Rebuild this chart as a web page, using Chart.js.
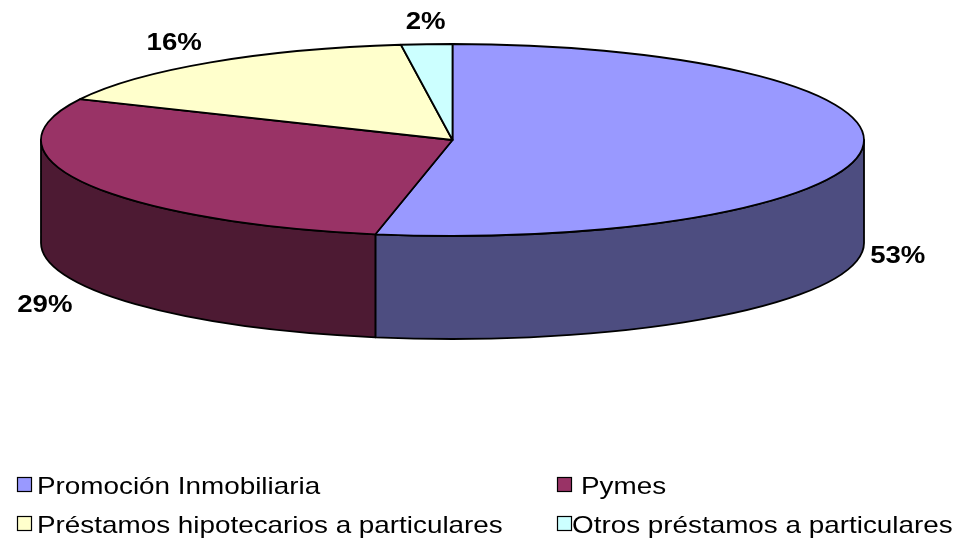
<!DOCTYPE html>
<html><head><meta charset="utf-8">
<script src="https://cdn.jsdelivr.net/npm/chart.js@4/dist/chart.umd.min.js"></script>
<style>html,body{margin:0;padding:0;background:#fff;overflow:hidden}#wrap{width:956px;height:546px;position:relative}</style>
</head><body><div id="wrap"><canvas id="c" width="956" height="546"></canvas></div>
<script>
const categories = ['Promoción Inmobiliaria', 'Pymes', 'Préstamos hipotecarios a particulares', 'Otros préstamos a particulares'];
const values = [53, 29, 16, 2];
const valueLabels = ['53%', '29%', '16%', '2%'];
const topColors = ['#9999FF', '#993366', '#FFFFCC', '#CCFFFF'];
const sideColors = ['#4D4D80', '#4D1A33', '#80806A', '#6A8080'];

const GEOM = { cx: 452.5, cy: 140, rx: 411.5, ry: 96, depth: 103 };
const FONT = '"Liberation Sans", Arial, sans-serif';
const LEGEND = {
  cols: [17, 557], rows: [477, 516], box: 14,
  textGap: [6, 10, 6, 1], fontSize: 24, sx: 1.16
};
const LABEL = { fontSize: 24, sx: 1.15 };

function scaledText(ctx, txt, x, y, align, sx) {
  ctx.save();
  ctx.translate(x, y);
  ctx.scale(sx, 1);
  ctx.textAlign = align;
  ctx.fillText(txt, 0, 0);
  ctx.restore();
}

const pie3d = {
  id: 'pie3d',
  beforeDatasetsDraw(chart) {
    const ctx = chart.ctx;
    const meta = chart.getDatasetMeta(0);
    const { cx, cy, rx, ry, depth } = GEOM;
    ctx.save();
    ctx.lineWidth = 1.8;
    ctx.strokeStyle = '#000';
    ctx.lineJoin = 'round';
    // front walls
    meta.data.forEach((arc, i) => {
      const s = arc.startAngle, e = arc.endAngle;
      [-2 * Math.PI, 0, 2 * Math.PI].forEach(off => {
        const a0 = Math.max(s, off), a1 = Math.min(e, off + Math.PI);
        if (a1 > a0) {
          ctx.beginPath();
          ctx.ellipse(cx, cy, rx, ry, 0, a0, a1, false);
          ctx.lineTo(cx + rx * Math.cos(a1), cy + depth + ry * Math.sin(a1));
          ctx.ellipse(cx, cy + depth, rx, ry, 0, a1, a0, true);
          ctx.closePath();
          ctx.fillStyle = sideColors[i];
          ctx.fill();
          ctx.stroke();
        }
      });
    });
    // top faces
    meta.data.forEach((arc, i) => {
      ctx.beginPath();
      ctx.moveTo(cx, cy);
      ctx.ellipse(cx, cy, rx, ry, 0, arc.startAngle, arc.endAngle, false);
      ctx.closePath();
      ctx.fillStyle = topColors[i];
      ctx.fill();
      ctx.stroke();
    });
    // value labels
    ctx.fillStyle = '#000';
    ctx.font = 'bold ' + LABEL.fontSize + 'px ' + FONT;
    meta.data.forEach((arc, i) => {
      const mid = (arc.startAngle + arc.endAngle) / 2;
      const c = Math.cos(mid), sn = Math.sin(mid);
      const bx = cx + rx * c;
      const by = (sn > 0 ? cy + depth : cy) + ry * sn;
      const align = c < -0.3 ? 'right' : (c > 0.3 ? 'left' : 'center');
      const gap = align === 'left' ? 8 : 15;
      const x = bx + gap * c, y = by + gap * sn;
      let ty;
      if (sn < -0.3) { ctx.textBaseline = 'alphabetic'; ty = y; }
      else if (sn > 0.3) { ctx.textBaseline = 'top'; ty = y; }
      else { ctx.textBaseline = 'middle'; ty = y + 4; }
      scaledText(ctx, valueLabels[i], x, ty, align, LABEL.sx);
    });
    ctx.restore();
    return false;
  },
  afterDraw(chart) {
    const ctx = chart.ctx;
    ctx.save();
    ctx.font = LEGEND.fontSize + 'px ' + FONT;
    ctx.textBaseline = 'alphabetic';
    categories.forEach((lab, i) => {
      const col = i % 2, row = Math.floor(i / 2);
      const x = LEGEND.cols[col], y = LEGEND.rows[row];
      ctx.fillStyle = topColors[i];
      ctx.fillRect(x + 0.5, y + 0.5, LEGEND.box, LEGEND.box);
      ctx.strokeStyle = '#000';
      ctx.lineWidth = 1.2;
      ctx.strokeRect(x + 0.5, y + 0.5, LEGEND.box, LEGEND.box);
      ctx.fillStyle = '#000';
      scaledText(ctx, lab, x + LEGEND.box + LEGEND.textGap[i], y + LEGEND.box + 3, 'left', LEGEND.sx);
    });
    ctx.restore();
  }
};

new Chart(document.getElementById('c'), {
  type: 'pie',
  data: {
    labels: categories,
    datasets: [{ data: values, backgroundColor: topColors, borderColor: '#000', borderWidth: 1 }]
  },
  options: {
    responsive: false,
    animation: false,
    events: [],
    plugins: { legend: { display: false }, tooltip: { enabled: false } }
  },
  plugins: [pie3d]
});
</script>
</body></html>
